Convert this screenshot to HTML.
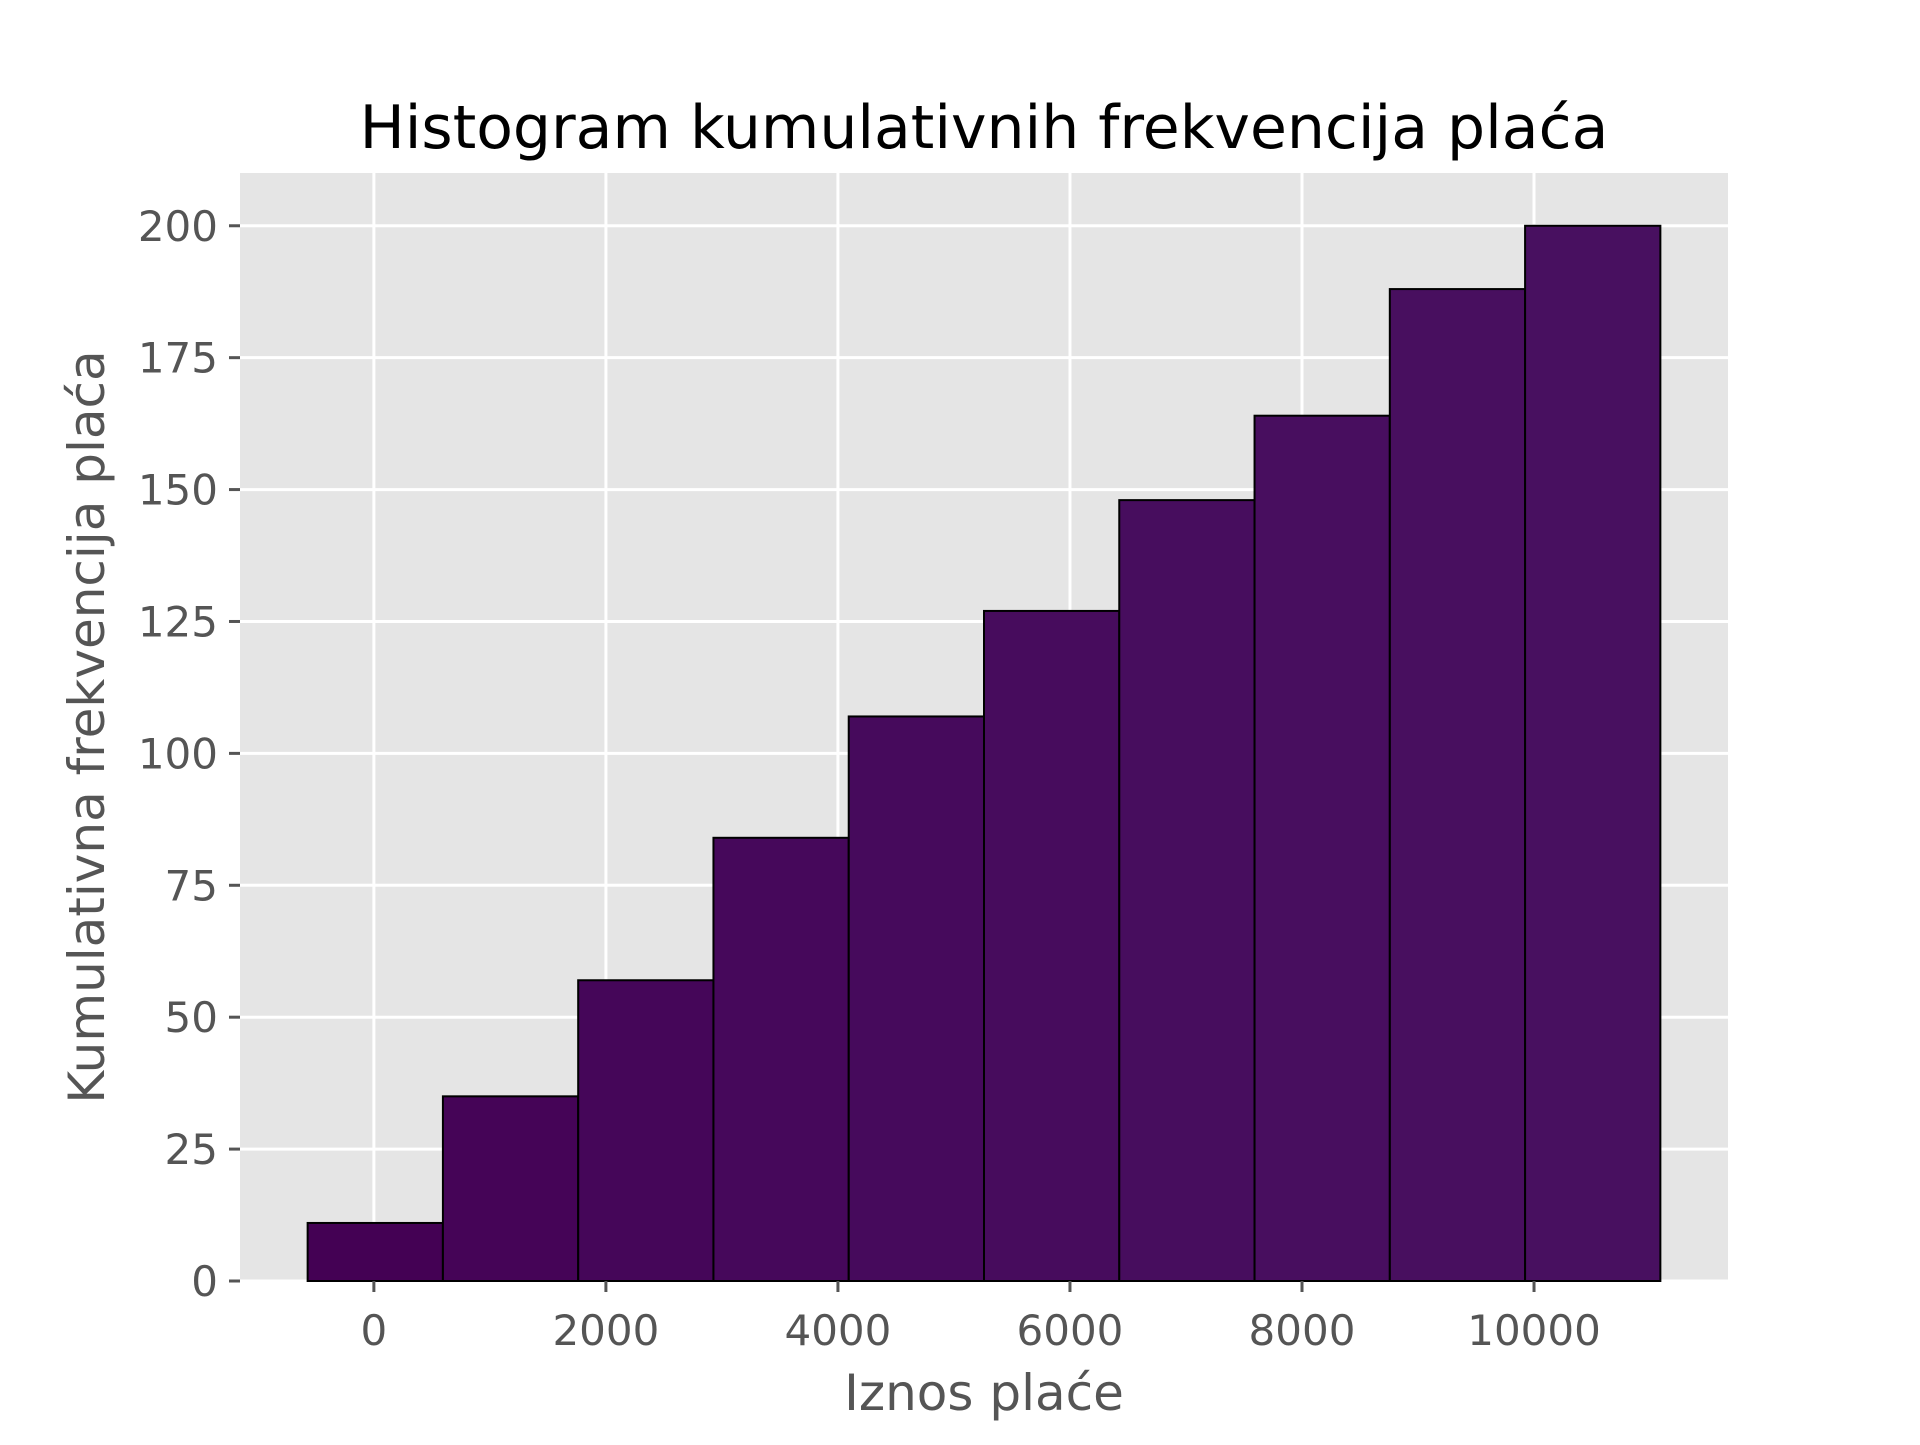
<!DOCTYPE html>
<html><head><meta charset="utf-8"><style>
html,body{margin:0;padding:0;background:#fff;}
svg text{font-family:"DejaVu Sans","Liberation Sans",sans-serif;}
</style></head><body>
<svg id="chart" width="1920" height="1440" xmlns="http://www.w3.org/2000/svg">
<rect x="240" y="173" width="1488" height="1108" fill="#e5e5e5"/>
<g id="grid"></g>
<g id="bars"></g>
<g id="ticks"></g>
<text x="984" y="148" font-size="60" text-anchor="middle" fill="#000">Histogram kumulativnih frekvencija plaća</text>
<text x="984" y="1410" font-size="50" text-anchor="middle" fill="#555">Iznos plaće</text>
<text transform="translate(104,727) rotate(-90)" font-size="50" text-anchor="middle" fill="#555">Kumulativna frekvencija plaća</text>
</svg>
<script>
const binStart = -571;
const binWidth = 1166;
const counts = [11, 35, 57, 84, 107, 127, 148, 164, 188, 200];
const xTicks = [0, 2000, 4000, 6000, 8000, 10000];
const yTicks = [0, 25, 50, 75, 100, 125, 150, 175, 200];
const colors = ["#440154","#450457","#450659","#46085b","#460a5c","#470c5d","#470d5e","#480e5f","#480f5f","#481060"];
const NS="http://www.w3.org/2000/svg";
const L=240,R=1728,T=173,B=1281;
const xmin=-1154,xmax=11672,ymin=0,ymax=210;
const sx=v=>L+(v-xmin)/(xmax-xmin)*(R-L);
const sy=v=>B-(v-ymin)/(ymax-ymin)*(B-T);
function mk(tag,attrs,parent){const e=document.createElementNS(NS,tag);for(const k in attrs)e.setAttribute(k,attrs[k]);parent.appendChild(e);return e;}
const grid=document.getElementById('grid'),bars=document.getElementById('bars'),ticks=document.getElementById('ticks');
xTicks.forEach(v=>{
  const g=mk('line',{x1:sx(v),x2:sx(v),y1:T,y2:B,stroke:'#fff','stroke-width':3},grid);
  
  
  const t=mk('line',{x1:sx(v),x2:sx(v),y1:B,y2:B+11,stroke:'#555','stroke-width':3},ticks);
  
  
  const l=mk('text',{x:sx(v),y:B+64,'font-size':42,'text-anchor':'middle',fill:'#555'},ticks);
  l.textContent=v;
  
  
});
yTicks.forEach(v=>{
  const g=mk('line',{x1:L,x2:R,y1:sy(v),y2:sy(v),stroke:'#fff','stroke-width':3},grid);
  
  
  const t=mk('line',{x1:L-11,x2:L,y1:sy(v),y2:sy(v),stroke:'#555','stroke-width':3},ticks);
  
  
  const l=mk('text',{x:L-22,y:sy(v)+15,'font-size':42,'text-anchor':'end',fill:'#555'},ticks);
  l.textContent=v;
  
  
});
counts.forEach((c,i)=>{
  const x0=sx(binStart+i*binWidth),x1=sx(binStart+(i+1)*binWidth);
  const r=mk('rect',{x:x0,y:sy(c),width:x1-x0,height:sy(0)-sy(c),fill:colors[i],stroke:'#000','stroke-width':2},bars);
  
  
});
</script>
</body></html>
